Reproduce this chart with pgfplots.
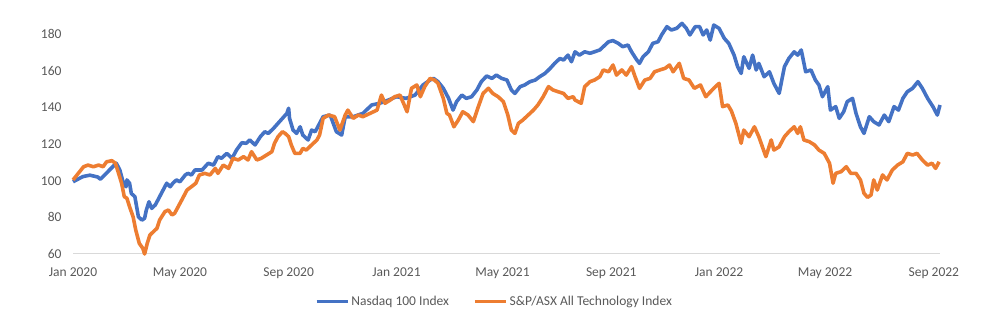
\documentclass[border=0pt]{standalone}
\usepackage{fontspec}
\setmainfont{Carlito}
\usepackage{pgfplots}
\usepackage{pgfplotstable}
\pgfplotsset{compat=1.18}
\definecolor{nasblue}{HTML}{4472C4}
\definecolor{asxorange}{HTML}{ED7D31}
\definecolor{txtgray}{HTML}{595959}
\definecolor{axgray}{HTML}{D9D9D9}
% x = days since 1 Jan 2020
\pgfplotstableread{
x y
0 99.4
11 102.2
19 103.0
28 102.0
31 100.8
45 107.6
49 109.5
53 105.8
57 98.6
60 96.7
61 100.4
64 98.6
66 93.0
70 91.3
72 85.8
74 80.3
78 78.5
81 79.5
83 84.0
86 88.5
89 84.9
93 86.7
96 89.4
100 93.1
106 98.6
110 96.7
113 98.6
117 100.4
121 99.4
127 103.1
130 104.0
134 103.1
138 105.8
146 105.8
153 109.5
159 108.5
164 113.1
168 112.2
174 114.9
180 112.2
185 116.7
191 120.7
196 120.4
200 122.2
206 119.5
212 124.0
217 126.7
221 125.8
227 128.6
232 131.3
237 134.0
242 136.7
244 139.5
245 134.0
249 127.6
253 125.8
257 129.4
260 124.9
266 122.2
270 127.6
274 126.7
277 129.4
283 134.9
291 135.8
298 126.7
304 124.9
308 134.9
317 134.9
328 136.7
338 141.3
347 142.2
357 144.0
366 145.8
377 144.9
387 146.7
396 152.2
404 154.9
408 155.8
413 154.0
419 150.4
425 144.9
430 138.5
434 143.1
440 146.7
445 144.9
451 145.8
457 149.5
462 154.0
468 157.1
474 155.8
479 157.6
485 155.8
491 154.9
496 149.5
500 147.6
506 151.3
511 152.2
517 154.0
523 154.9
528 156.7
534 158.5
540 161.3
545 164.0
551 166.7
555 165.8
560 168.5
564 164.9
568 170.3
573 168.5
579 170.3
585 169.5
590 170.3
596 171.3
606 175.8
611 176.4
617 174.9
622 173.1
628 174.0
632 170.3
638 165.8
641 164.0
645 167.6
651 170.3
656 174.9
662 175.8
666 179.5
672 184.0
677 182.2
683 183.1
689 185.8
694 183.1
698 179.5
704 184.0
709 184.0
713 179.5
717 182.2
721 176.7
725 184.9
731 183.1
737 177.6
742 174.9
748 168.5
752 162.2
756 158.5
759 167.6
765 161.3
769 168.5
773 160.4
776 164.0
782 156.7
788 159.4
793 153.1
799 147.6
805 162.2
810 166.7
816 170.3
820 168.5
824 171.3
829 159.4
835 160.4
840 154.9
844 152.2
848 145.8
854 151.3
857 138.5
863 140.4
867 134.0
872 137.6
876 143.1
882 144.9
886 136.7
891 129.4
895 125.8
901 134.9
906 132.2
912 130.4
918 135.8
923 132.2
929 140.4
934 138.5
939 144.9
944 148.5
950 150.4
956 154.0
961 150.4
967 144.9
973 140.4
978 135.8
981 141.3
}\nasdaq
\pgfplotstableread{
x y
0 100.4
6 104.0
12 107.6
17 108.5
23 107.6
29 108.5
34 107.6
38 110.3
44 110.9
48 109.5
51 104.9
55 98.6
58 91.3
61 90.4
64 85.8
68 80.3
71 73.1
75 65.8
79 63.1
81 60.0
84 65.8
87 70.3
91 72.2
95 74.0
98 78.5
104 83.1
108 84.0
112 81.3
115 82.2
119 85.8
123 89.4
129 94.9
134 96.7
139 98.6
143 103.1
149 104.0
155 103.1
161 106.7
164 104.0
170 108.5
176 106.7
181 112.2
187 111.3
193 113.1
198 111.3
202 115.8
208 111.3
213 112.2
219 114.0
225 115.8
228 120.4
232 124.0
237 126.7
240 125.8
244 124.0
247 119.5
251 114.9
257 114.9
260 117.6
264 116.7
270 119.5
276 122.2
279 124.9
283 134.0
289 135.8
296 134.9
302 127.6
308 135.8
311 138.5
317 134.0
323 135.8
328 134.9
336 136.7
344 138.5
349 146.7
353 142.2
359 144.0
364 145.8
370 146.7
374 142.2
378 137.6
383 150.4
389 152.2
393 145.8
398 151.3
404 155.8
409 154.9
413 153.1
419 144.9
423 136.7
426 135.8
431 129.4
436 133.1
441 137.6
447 135.8
453 132.2
458 139.5
464 147.6
470 150.4
475 147.6
481 145.8
487 143.1
492 135.8
496 127.6
500 125.8
504 131.3
509 133.1
515 135.8
521 138.5
526 141.3
532 145.8
538 151.3
543 149.5
549 148.5
555 147.6
560 144.9
566 145.8
568 144.0
575 142.2
579 151.3
585 154.0
590 154.9
596 156.7
600 160.4
606 159.4
611 163.1
615 157.6
621 160.4
626 157.6
632 162.2
636 156.7
641 150.4
647 154.9
653 155.8
658 159.4
664 160.4
670 161.3
675 163.1
679 159.4
686 164.0
691 155.8
697 154.9
703 150.4
710 152.2
716 145.8
725 150.4
731 153.1
735 140.4
741 141.3
745 138.0
750 131.3
756 120.4
759 127.6
765 124.0
771 129.4
776 124.0
784 113.1
790 122.2
793 116.7
799 118.5
805 124.0
810 126.7
816 129.4
820 125.8
823 129.4
827 122.2
833 121.3
839 119.5
844 116.7
850 114.9
856 109.5
860 98.6
863 104.0
869 104.9
875 107.6
880 104.0
886 104.0
891 100.4
895 93.1
899 90.9
903 92.2
906 100.4
910 94.9
916 103.1
921 100.4
927 105.8
933 108.5
939 110.3
944 114.9
950 114.0
955 114.9
961 111.3
967 108.5
972 109.5
976 106.7
980 110.3
}\asx
\begin{document}
\begin{tikzpicture}
\path[use as bounding box] (0pt,0pt) rectangle (986pt,324pt);
\begin{axis}[
  at={(73pt,70pt)}, anchor=south west,
  scale only axis, width=867pt, height=238.3pt,
  xmin=0, xmax=981, ymin=60, ymax=190,
  clip=false,
  separate axis lines,
  axis x line*=bottom, axis y line*=left,
  x axis line style={draw=axgray, line width=1pt, -},
  y axis line style={draw=none},
  major tick length=0pt,
  tick style={draw=none},
  ytick={60,80,...,180},
  xtick={0,121,244,366,486,609,731,851,974},
  xticklabels={Jan 2020,May 2020,Sep 2020,Jan 2021,May 2021,Sep 2021,Jan 2022,May 2022,Sep 2022},
  /pgf/number format/assume math mode=true,
  tick label style={font=\fontsize{13.5}{16}\selectfont, text=txtgray},
  yticklabel style={xshift=-8pt},
  xticklabel style={yshift=-10pt},
  legend columns=2,
  legend style={at={(0.486,-0.2)}, anchor=center, draw=none, fill=none,
    font=\fontsize{13.5}{16}\selectfont, text=txtgray,
    /tikz/every even column/.append style={column sep=22pt}},
  legend image code/.code={\draw[#1] (0pt,0pt) -- (31pt,0pt);},
]
\addplot[nasblue, line width=3.6pt, line join=round] table[x=x,y=y] {\nasdaq};
\addlegendentry{Nasdaq 100 Index}
\addplot[asxorange, line width=3.6pt, line join=round] table[x=x,y=y] {\asx};
\addlegendentry{S\&P/ASX All Technology Index}
\end{axis}
\end{tikzpicture}
\end{document}
